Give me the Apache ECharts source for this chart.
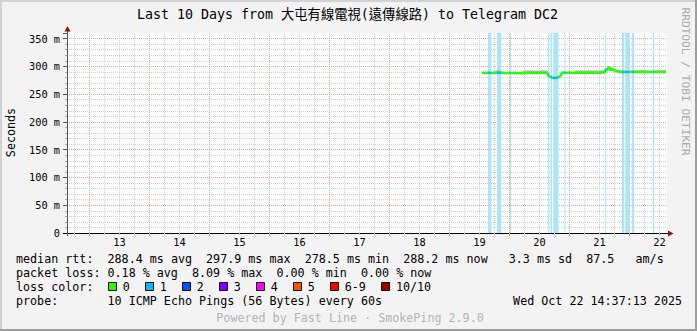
<!DOCTYPE html>
<html><head><meta charset="utf-8">
<script src="https://cdn.jsdelivr.net/npm/echarts@6/dist/echarts.min.js"></script>
<style>html,body{margin:0;padding:0;background:#f3f3f3;}#c{width:697px;height:331px;}</style>
</head><body><div id="c"></div>
<script>
// ---- data (x = hours since Oct 12 00:00) ----
const xLabelHours = [36, 60, 84, 108, 132, 156, 180, 204, 228, 252];
const xLabels = ['13', '14', '15', '16', '17', '18', '19', '20', '21', '22'];

const medianHours = [181,182,183,184,185,186,187,188,189,190,191,192,193,194,195,196,197,198,199,200,201,202,203,204,205,206,207,
  207.5,208,209,210,211,211.6,212.2,212.7,213.2,
  214,215,216,217,218,219,220,221,222,223,224,225,226,227,228,229,230,
  230.3,230.8,231.3,231.8,232.3,232.8,233.3,233.8,234.4,235,
  236,237,238,239,240,241,242,243,244,245,246,247,248,249,250,251,252,253,254,254.6];
const medianMs = [288.5,288.3,288.6,288.4,288.2,288.5,288.8,288.6,288.3,288.0,288.2,288.4,288.1,288.3,288.0,287.9,288.2,288.4,288.1,288.3,288.5,288.2,288.0,288.3,288.6,288.4,288.3,
  284.0,281.5,280.0,279.0,279.5,280.8,281.5,285.5,289.0,
  288.8,288.6,288.7,288.4,288.6,288.9,288.5,288.7,288.4,288.6,288.8,288.5,288.7,288.6,288.4,288.7,288.9,
  293.5,292.5,296.0,297.9,292.5,296.5,293.0,294.0,291.5,291.0,
  290.0,289.8,289.6,289.9,289.7,290.0,289.8,289.6,289.9,290.1,289.8,289.7,290.0,289.8,289.6,289.9,289.7,289.8,289.9,289.7];
// upper edge of the smoke, in ms above the median
const smokeUp = [1,1,1,1.5,1,1,4.5,4.5,1.5,1,1,1,1,1,1,1,1,4,4.5,4,4.5,4,4.5,4,4.5,4,4,
  2,2,1.5,1.5,1.5,1.5,2,2,1.5,
  1,1,1,1,1,4,4,4,4,4,4,4,4,4,4,4,2,
  3,3,3,3,3,3,3,3,3,3,
  3,3,3,2,2,3,3,3,3,3,3,3,2,2,3,3,3,3,3,2];

const lossStart = [183.4, 187.0, 192.2, 207.4, 208.4, 209.5, 214.0, 230.3, 237.0, 238.3, 241.0, 249.4];
const lossEnd   = [184.7, 188.7, 192.6, 207.9, 209.0, 211.6, 214.4, 230.7, 237.9, 240.0, 241.9, 249.9];

const lossLabels = ['0', '1', '2', '3', '4', '5', '6-9', '10/10'];
const statsLine1 = 'median rtt:  288.4 ms avg  297.9 ms max  278.5 ms min  288.2 ms now   3.3 ms sd  87.5   am/s';
const statsLine2 = 'packet loss: 0.18 % avg  8.09 % max  0.00 % min  0.00 % now';
const probeLine = 'probe:       10 ICMP Echo Pings (56 Bytes) every 60s';
const titleText = 'Last 10 Days from 大屯有線電視(遠傳線路) to Telegram DC2';
const dateText = 'Wed Oct 22 14:37:13 2025';
const footerText = 'Powered by Fast Line · SmokePing 2.9.0';
const watermarkText = 'RRDTOOL / TOBI OETIKER';

// ---- styles ----
const lossPalette = ['#26ff00', '#00b8ff', '#0059ff', '#7e00ff', '#ff00ff', '#ff5500', '#ff0000', '#a10000'];
const MONO = '"DejaVu Sans Mono", "Noto Sans CJK TC", monospace';
const CW = 7.04;

const lineData = medianHours.map((h, i) => [h, medianMs[i]]);
const smokeData = medianHours.map((h, i) => [h, medianMs[i] + smokeUp[i] - 1.6]);

const vGrid = [];
for (let h = 18; h <= 252; h += 6) {
  vGrid.push({ xAxis: h, lineStyle: { color: h % 24 === 0 ? '#f2a0a0' : '#cfcfcf', type: [1, 1], width: 1 } });
}
const sixHour = []; const midnights = [];
for (let h = 18; h <= 252; h += 6) { if (h % 24 === 0) midnights.push(h); else sixHour.push(h); }

const G = [];
function txt(x, y, text, o) {
  o = o || {};
  G.push({ type: 'text', x: x, y: y, rotation: o.rot || 0, silent: true, z: 10,
    style: { text: text, fontFamily: MONO, fontSize: o.size || 11.7, fill: o.color || '#000',
      align: o.align || 'left', verticalAlign: 'middle' } });
}
function mono(x0, y, line) {
  const re = /\S+/g; let m;
  while ((m = re.exec(line))) txt(x0 + m.index * CW, y, m[0]);
}
function seg(x1, y1, x2, y2, color, w) {
  G.push({ type: 'line', silent: true, z: 10, shape: { x1, y1, x2, y2 }, style: { stroke: color, lineWidth: w } });
}
// frame
seg(0, 1, 697, 1, '#d2d2d2', 2);
seg(1, 0, 1, 331, '#d2d2d2', 2);
seg(0, 330, 697, 330, '#9e9e9e', 2);
seg(696, 0, 696, 331, '#9e9e9e', 2);
// axis extensions and arrows
seg(67.5, 30, 67.5, 33, '#555', 1);
seg(67.5, 233, 67.5, 236, '#555', 1);
seg(63, 233.5, 67, 233.5, '#000', 1);
seg(667, 233.5, 669, 233.5, '#000', 1);
G.push({ type: 'polygon', silent: true, z: 10, shape: { points: [[67.5, 26], [64.5, 31.5], [70.5, 31.5]] }, style: { fill: '#8c1212' } });
G.push({ type: 'polygon', silent: true, z: 10, shape: { points: [[673.5, 233.5], [668, 230.5], [668, 236.5]] }, style: { fill: '#8c1212' } });
// texts
txt(347.5, 14, titleText, { size: 13.3, align: 'center' });
txt(685, 81.5, watermarkText, { size: 11.2, color: '#ababab', align: 'center', rot: -Math.PI / 2 });
txt(10.5, 132.5, 'Seconds', { align: 'center', rot: Math.PI / 2 });
mono(16, 259, statsLine1);
mono(16, 273, statsLine2);
mono(16, 287, 'loss color:');
mono(16, 301, probeLine);
txt(682, 301, dateText, { align: 'right' });
txt(350, 318, footerText, { align: 'center', color: '#b4b4b4' });
// loss legend boxes
let bx = 108.5;
lossLabels.forEach((lab, i) => {
  G.push({ type: 'rect', silent: true, z: 10, shape: { x: bx, y: 282.5, width: 8, height: 8 },
    style: { fill: lossPalette[i], stroke: '#000', lineWidth: 1 } });
  txt(bx + 14.3, 287, lab);
  bx += 37 + (lab.length - 1) * CW;
});

const option = {
  animation: false,
  backgroundColor: '#f3f3f3',
  textStyle: { fontFamily: MONO },
  grid: { left: 67, top: 33, width: 600, height: 200, show: true, backgroundColor: '#ffffff', borderWidth: 0 },
  xAxis: [
    { type: 'value', min: 15, max: 255,
      axisLine: { show: true, lineStyle: { color: '#000', width: 1 } },
      axisTick: { show: true, customValues: sixHour, length: 2, lineStyle: { color: '#c4c4c4' } },
      axisLabel: { show: true, customValues: xLabelHours, formatter: v => xLabels[xLabelHours.indexOf(v)] || '',
        fontFamily: MONO, fontSize: 10.3, color: '#000', margin: 4 },
      splitLine: { show: false } },
    { type: 'value', min: 15, max: 255, position: 'bottom',
      axisLine: { show: false },
      axisTick: { show: true, customValues: midnights, length: 3, lineStyle: { color: '#ec8c8c' } },
      axisLabel: { show: false }, splitLine: { show: false } }
  ],
  yAxis: [
    { type: 'value', min: 0, max: 360, interval: 10,
      axisLine: { show: false },
      axisTick: { show: true, length: 2, lineStyle: { color: '#aaa' } },
      axisLabel: { show: false },
      splitLine: { show: true, showMinLine: false, showMaxLine: false, lineStyle: { color: '#d2d2d2', type: [1, 1], width: 1 } } },
    { type: 'value', min: 0, max: 360, interval: 50, position: 'left',
      axisLine: { show: true, lineStyle: { color: '#555', width: 1 } },
      axisTick: { show: true, length: 4, lineStyle: { color: '#555' } },
      axisLabel: { show: true, formatter: v => v > 350 ? '' : (v === 0 ? '0' : v + ' m'),
        fontFamily: MONO, fontSize: 10.3, color: '#000', margin: 7 },
      splitLine: { show: true, showMinLine: false, showMaxLine: false, lineStyle: { color: '#f2a0a0', type: [1, 1], width: 1 } } }
  ],
  visualMap: {
    type: 'piecewise', show: false, dimension: 0, seriesIndex: 1,
    pieces: lossStart.map((s, i) => ({ gte: s, lte: lossEnd[i], color: '#00b8ff' })),
    outOfRange: { color: '#26ff00' }
  },
  series: [
    { name: 'smoke', type: 'line', data: smokeData, symbol: 'none', silent: true, z: 3,
      lineStyle: { width: 2, color: '#bdbdbd' },
      markLine: { silent: true, z: 1, symbol: 'none', label: { show: false }, emphasis: { disabled: true },
        animation: false, data: vGrid },
      markArea: { silent: true, z: 2, label: { show: false }, emphasis: { disabled: true },
        itemStyle: { color: '#abe5fb', opacity: 1 },
        data: lossStart.map((s, i) => [{ xAxis: s }, { xAxis: lossEnd[i] }]) } },
    { name: 'median', type: 'line', data: lineData, symbol: 'none', silent: true, z: 4,
      lineStyle: { width: 2.5 } }
  ],
  graphic: { elements: G }
};
const chart = echarts.init(document.getElementById('c'), null, { renderer: 'svg', width: 697, height: 331 });
chart.setOption(option);
</script>
</body></html>
